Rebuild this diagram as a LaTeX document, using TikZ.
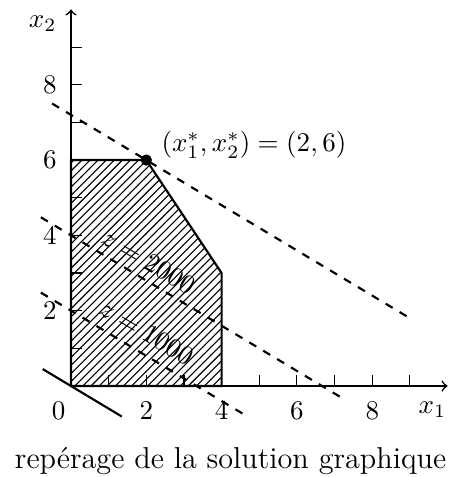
\documentclass[tikz,border=0pt]{standalone}
\usepackage{fontspec}
\usetikzlibrary{patterns}
\begin{document}
\begin{tikzpicture}[x=0.49cm,y=0.49cm,
  axis/.style={semithick,->},
  tickmark/.style={thin},
  region/.style={thick,pattern=north east lines},
  isoline/.style={thick,dashed},
  zeroline/.style={thick},
  lbl/.style={inner sep=0pt}]
\useasboundingbox (-1.885,-2.416) rectangle (10.09,10.25);
% coordinates
\coordinate (O) at (0,0);
\coordinate (xend) at (10,0);
\coordinate (yend) at (0,10);
\coordinate (P1) at (0,6);
\coordinate (P2) at (2,6);
\coordinate (P3) at (4,3);
\coordinate (P4) at (4,0);
% ticks
\foreach \i in {1,...,9} {
  \draw[tickmark] (\i,0) -- (\i,0.28);
  \draw[tickmark] (0,\i) -- (0.28,\i);
}
% feasible region
\draw[region] (O) -- (P1) -- (P2) -- (P3) -- (P4) -- cycle;
% axes
\draw[axis] (O) -- (xend);
\draw[axis] (O) -- (yend);
% tick labels
\node[lbl] (l0) at (-0.33,-0.65) {$0$};
\foreach \i in {2,4,6,8} {
  \node[lbl] (lx\i) at (\i,-0.65) {$\i$};
  \node[lbl] (ly\i) at (-0.56,\i) {$\i$};
}
\node[lbl] (x1lbl) at (9.6,-0.62) {$x_1$};
\node[lbl] (x2lbl) at (-0.75,9.63) {$x_2$};
% iso-objective lines
\coordinate (a1) at (-0.5,7.5);
\coordinate (a2) at (9,1.8);
\coordinate (b1) at (-0.8,4.48);
\coordinate (b2) at (7.2,-0.32);
\coordinate (c1) at (-0.8,2.48);
\coordinate (c2) at (4.67,-0.8);
\coordinate (d1) at (-0.75,0.45);
\coordinate (d2) at (1.35,-0.81);
\draw[isoline] (a1) -- (a2);
\draw[isoline] (b1) -- (b2) node[pos=0.3275,sloped,above=-0.5pt] (z2) {$z=2000$};
\draw[isoline] (c1) -- (c2) node[pos=0.463,sloped,above=0.5pt] (z1) {$z=1000$};
\draw[zeroline] (d1) -- (d2);
% optimum
\fill (P2) circle (2.1pt);
\node[lbl,anchor=base west] (optlbl) at (2.39,6.22) {$(x_1^*,x_2^*)=(2,6)$};
% caption
\node[lbl,font=\fontsize{11.2}{13.5}\selectfont,anchor=base] (cap) at (4.24,-2.18) {repérage de la solution graphique};
\end{tikzpicture}
\end{document}
